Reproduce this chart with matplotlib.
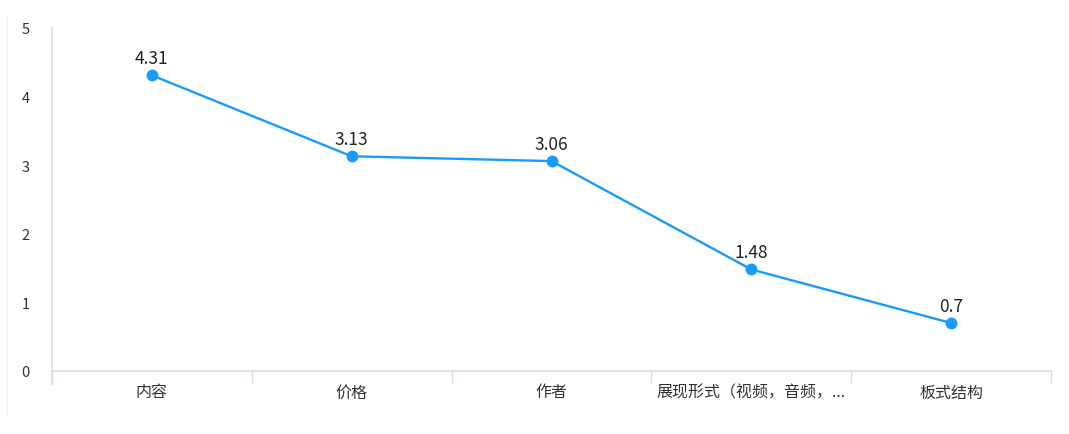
import matplotlib
matplotlib.use('Agg')
import matplotlib.pyplot as plt
from matplotlib.lines import Line2D
import numpy as np

plt.rcParams['font.family'] = ['Noto Sans CJK SC', 'DejaVu Sans']

categories = ['内容', '价格', '作者', '展现形式（视频，音频，...', '板式结构']
values = [4.31, 3.13, 3.06, 1.48, 0.7]
y_ticks = [0, 1, 2, 3, 4, 5]

line_color = '#1A9BFC'
axis_color = '#D5DEE9'
text_color = '#333333'

fig = plt.figure(figsize=(10.69, 4.35), dpi=100)
ax = fig.add_axes([52 / 1069, 63 / 435, 999 / 1069, 343 / 435])

x = np.arange(len(categories))
ax.plot(x, values, color=line_color, linewidth=1.7, marker='o',
        markersize=7.5, zorder=3, clip_on=False)
for xi, v in zip(x, values):
    ax.annotate(str(v), (xi, v), xytext=(0, 6), textcoords='offset points',
                ha='center', va='bottom', fontsize=12.5, color='#222222')

ax.set_xlim(-0.5, len(categories) - 0.5)
ax.set_ylim(0, 5)

# category boundaries as major ticks, labels on minor ticks
ax.set_xticks(np.arange(len(categories) + 1) - 0.5)
ax.set_xticklabels([])
ax.set_xticks(x, minor=True)
ax.set_xticklabels(categories, minor=True)
ax.tick_params(axis='x', which='major', length=9.5, width=1, color=axis_color)
ax.tick_params(axis='x', which='minor', length=0, pad=9,
               labelsize=11.5, labelcolor=text_color)

ax.set_yticks(y_ticks)
ax.tick_params(axis='y', length=0, pad=16, labelsize=10.5, labelcolor=text_color)

for s in ['top', 'right', 'left']:
    ax.spines[s].set_visible(False)
ax.spines['bottom'].set_color(axis_color)
ax.spines['bottom'].set_linewidth(1.2)

# y axis line reaching below the x axis like the tick marks
ax.add_line(Line2D([0, 0], [-13 / 343, 1], transform=ax.transAxes,
                   color=axis_color, linewidth=1.2, clip_on=False))

# faint card border on the left edge
fig.add_artist(Line2D([7 / 1069, 7 / 1069], [20 / 435, 418 / 435],
                      transform=fig.transFigure, color='#EFEFEF', linewidth=1))

fig.savefig('out.png', dpi=100, facecolor='white')
